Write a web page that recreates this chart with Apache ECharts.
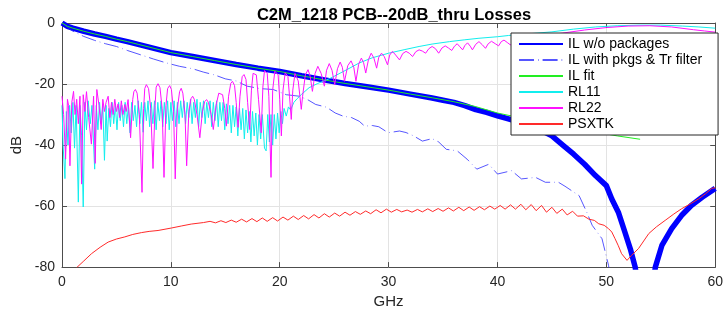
<!DOCTYPE html>
<html>
<head>
<meta charset="utf-8">
<script src="https://cdn.jsdelivr.net/npm/echarts@6/dist/echarts.min.js"></script>
<style>html,body{margin:0;padding:0;background:#fff}#chart{width:726px;height:314px}</style>
</head>
<body>
<div id="chart"></div>
<script>
// series names, in the legend order
var seriesNames = ['IL w/o packages', 'IL with pkgs & Tr filter', 'IL fit', 'RL11', 'RL22', 'PSXTK'];

// [GHz, dB]
var ilNoPkg = [[0,0],[0.5,-1.1],[1,-1.7],[2,-2.7],[3,-3.6],[4,-4.4],[5,-5.3],[6,-6.1],[7,-7.0],[8,-7.9],[9,-8.8],[10,-9.7],
  [12,-11.0],[14,-12.3],[16,-13.6],[18,-14.8],[20,-15.9],[22,-17.3],[24,-18.6],[26,-19.8],[28,-20.9],[30,-22.0],
  [32,-23.3],[34,-24.6],[35,-25.3],[36,-26.0],[37,-27.1],[38,-28.4],[39,-29.3],[40,-30.4],[41,-31.4],[42,-32.5],[43,-33.8],
  [44,-35.2],[45,-37.0],[46,-40.0],[47,-43.0],[48,-46.3],[49,-50.0],[50,-53.3],[50.5,-57.7],[51.1,-62.0],[51.7,-68.5],
  [52.2,-74.0],[52.65,-80],[53.2,-95],[54.0,-95],[54.5,-80],[55.1,-72.9],[56,-67.4],[56.9,-63.1],[57.8,-59.8],[58.8,-57.1],[60,-54.2]];

var ilPkg = [[0,0],[0.9,-2.5],[2,-4.4],[3,-5.7],[4,-6.8],[5,-7.7],[6,-9.0],[7.2,-10.4],[8.4,-11.8],[9.6,-13.1],[10.8,-14.2],
  [12,-15.0],[13,-16.1],[14,-17.0],[15,-18.3],[16,-19.0],[17,-20.7],[18.2,-21.5],[19.4,-21.8],[20.6,-23.5],[21.8,-24.0],
  [22.6,-25.2],[23.3,-26.7],[24.3,-27.6],[25.1,-29.5],[25.8,-30.5],[26.6,-31.0],[27.3,-32.2],[27.8,-33.8],[28.5,-33.6],
  [29.1,-34.0],[29.8,-35.6],[30.1,-35.9],[31.0,-35.4],[31.6,-35.9],[32.3,-37.0],[33.1,-38.7],[34.0,-37.9],[34.6,-39.0],
  [35.3,-41.4],[36.3,-41.9],[37.2,-44.6],[38.1,-47.9],[39.2,-46.3],[40.0,-49.5],[41.3,-48.4],[42.2,-51.1],[43.5,-50.6],
  [44.4,-52.2],[45.6,-52.2],[46.2,-53.5],[47.5,-56.6],[48.2,-62.0],[48.7,-66.3],[49.6,-70.7],[50.2,-79.4],[50.4,-84]];

var ilFit = [[0,0],[0.5,-1.1],[1,-1.7],[2,-2.7],[3,-3.6],[4,-4.4],[5,-5.3],[6,-6.1],[7,-7.0],[8,-7.9],[9,-8.8],[10,-9.7],
  [12,-11.0],[14,-12.3],[16,-13.6],[18,-14.8],[20,-15.9],[22,-17.3],[24,-18.6],[26,-19.8],[28,-20.9],[30,-22.0],
  [32,-23.3],[34,-24.5],[36,-25.8],[38,-27.4],[40,-29.5],[42,-31.0],[45,-33.3],[48,-35.1],[51,-37.0],[53.1,-38.1]];

var rl11 = [[0,-27],[0.1,-40],[0.27,-51],[0.4,-29],[0.55,-40],[0.7,-27],[0.85,-36],[1.0,-26],[1.15,-41],[1.3,-27],[1.5,-58.7],
  [1.65,-27],[1.8,-37],[1.95,-60.3],[2.1,-26],[2.25,-35],[2.4,-25.5],[2.6,-33],[2.75,-27],[3.0,-47.9],[3.15,-27],[3.3,-35],
  [3.45,-26],[3.6,-33],[3.75,-27],[3.9,-45],[4.05,-27],[4.15,-38.7],[4.3,-28],[4.45,-34],[4.6,-26],[4.75,-33],[4.9,-27],
  [5.05,-35],[5.2,-26],[5.35,-32],[5.5,-27],[5.65,-34],[5.8,-26],[5.95,-33],[6.1,-27],[6.25,-36],[6.4,-26],[6.55,-32],
  [6.7,-27],[6.85,-34],[7.0,-25.5],[7.15,-33],[7.3,-26],[7.45,-35.8],[7.6,-26],[7.75,-32],[7.9,-25.5],[8.05,-34],[8.2,-26],
  [8.35,-33],[8.5,-25.5],[8.65,-35],[8.8,-26],[8.95,-32],[9.1,-25.5],[9.25,-34],[9.4,-26],[9.55,-33],[9.7,-25.5],[9.85,-35],
  [10.0,-26],[10.15,-32],[10.3,-25.5],[10.45,-34],[10.6,-26],[10.75,-33],[10.9,-25.5],[11.05,-31],[11.2,-25.5],[11.35,-33],
  [11.5,-26],[11.65,-31],[11.8,-25],[11.95,-33],[12.1,-26],[12.25,-31],[12.4,-25],[12.55,-34],[12.7,-26],[12.85,-31],
  [13.0,-25.5],[13.15,-33],[13.3,-26],[13.45,-31],[13.6,-25.5],[13.75,-34],[13.9,-26],[14.05,-32],[14.2,-25.5],[14.35,-34],
  [14.5,-26],[14.65,-32],[14.8,-26],[14.95,-35],[15.1,-26.5],[15.25,-33],[15.4,-27],[15.55,-36],[15.7,-27],[15.85,-34],
  [16.0,-27.5],[16.15,-37],[16.3,-28],[16.45,-35],[16.6,-28],[16.75,-38],[16.9,-28.5],[17.05,-36],[17.2,-29],[17.35,-39],
  [17.5,-29],[17.65,-37],[17.8,-29.5],[17.95,-40],[18.1,-30],[18.25,-38],[18.4,-30],[18.6,-41],[18.75,-41.9],[18.9,-30],
  [19.05,-39],[19.2,-30],[19.35,-40],[19.5,-30],[19.65,-38],[19.8,-29.5],[19.95,-36],[20.1,-29],[20.25,-33],[20.4,-28],
  [20.6,-30.5],[20.8,-27.5],[21.0,-28.5],[21.3,-26],[21.6,-24.8],[22.0,-23.4],[22.7,-21.2],[23.5,-19.8],[24.6,-18.2],
  [26,-15.6],[27.3,-13.1],[28.5,-11.4],[30,-9.9],[31.5,-8.7],[32.8,-7.7],[34,-6.9],[35.6,-6.1],[37,-5.5],[38.3,-5.0],
  [40,-4.5],[41,-4.1],[43,-3.5],[45,-2.9],[47,-2.0],[49,-1.3],[51,-0.9],[53,-0.7],[55,-0.7],[57,-1.0],[58.5,-1.3],[60,-1.7]];

var rl22 = [[0,-24],[0.15,-30],[0.33,-44.6],[0.5,-25],[0.6,-27],[0.73,-46.8],[0.9,-26],[1.06,-22.4],[1.2,-30],[1.35,-25],
  [1.5,-33],[1.65,-24],[1.8,-52.8],[1.95,-23.5],[2.1,-29],[2.25,-22.5],[2.45,-31],[2.7,-39.7],[2.9,-24],[3.05,-46],
  [3.2,-21.8],[3.4,-27],[3.6,-34.9],[3.75,-25],[3.9,-29],[4.05,-26],[4.24,-24],[4.4,-31],[4.55,-26],[4.7,-30],[4.85,-25],
  [5.0,-29],[5.15,-26.5],[5.3,-31],[5.45,-25.5],[5.6,-30],[5.77,-26.7],[5.9,-29],[6.07,-25.1],[6.3,-37.6],[6.5,-25],
  [6.6,-22.5],[6.74,-21.8],[6.9,-23],[7.1,-30],[7.35,-55.5],[7.5,-28],[7.6,-21.5],[7.75,-20.2],[7.95,-21.5],[8.15,-28],
  [8.36,-47.7],[8.55,-27],[8.65,-21],[8.82,-19.9],[9.0,-21.2],[9.2,-28],[9.37,-50.6],[9.55,-27],[9.7,-21.5],[9.89,-20.5],
  [10.05,-21.8],[10.25,-29],[10.4,-51.1],[10.6,-28],[10.8,-22.5],[10.95,-21.4],[11.1,-23],[11.3,-30],[11.45,-46.8],
  [11.65,-29],[11.85,-24.8],[12.0,-24],[12.15,-25],[12.4,-30],[12.66,-37.6],[12.9,-29],[13.1,-25.8],[13.28,-25.1],
  [13.45,-26],[13.7,-30],[13.9,-34.9],[14.15,-27],[14.4,-23],[14.56,-22.4],[14.75,-23.5],[14.95,-28],[15.1,-33.8],
  [15.3,-24],[15.5,-19.8],[15.66,-19.1],[15.85,-20.5],[16.0,-26],[16.17,-34.2],[16.35,-24],[16.55,-17.6],[16.72,-16.9],
  [16.9,-18.5],[17.05,-26],[17.24,-34.9],[17.4,-22],[17.55,-16.5],[17.7,-15.9],[17.85,-17],[18.05,-25],[18.3,-36],
  [18.45,-21],[18.6,-15.6],[18.7,-15.1],[18.85,-16.5],[19.0,-24],[19.2,-50.6],[19.35,-22],[19.55,-15.8],[19.7,-15.3],
  [19.85,-17],[20.0,-25],[20.15,-37],[20.3,-22],[20.5,-16.3],[20.6,-15.9],[20.75,-17.5],[20.9,-24],[21.06,-31.6],
  [21.2,-22],[21.4,-16.5],[21.5,-16.2],[21.7,-19],[21.98,-28.3],[22.1,-24],[22.35,-17],[22.6,-15.3],[22.8,-17.5],
  [23.0,-22.4],[23.25,-16.5],[23.5,-14.2],[23.8,-16.5],[24.1,-20.7],[24.3,-15.5],[24.55,-13.3],[24.8,-15.5],[25.05,-20.2],
  [25.3,-15],[25.55,-12.8],[25.75,-14.5],[25.95,-19.1],[26.25,-14],[26.55,-12.4],[26.8,-14.5],[27.0,-19.1],[27.25,-13.5],
  [27.5,-11.5],[27.7,-13],[27.9,-16.4],[28.15,-12],[28.4,-9.9],[28.65,-11.5],[28.9,-14.8],[29.1,-11.2],[29.35,-9.9],
  [29.6,-11],[29.9,-13.7],[30.1,-10.5],[30.35,-9.3],[30.65,-10.5],[31.0,-12.1],[31.3,-10],[31.6,-9.3],[31.9,-9.9],
  [32.2,-11],[32.5,-9.4],[32.8,-8.8],[33.1,-9.2],[33.4,-9.9],[33.7,-8.4],[34.0,-7.7],[34.3,-8.4],[34.6,-9.9],[34.9,-8.2],
  [35.2,-7.5],[35.5,-8.2],[35.8,-9.0],[36.05,-7.6],[36.3,-6.8],[36.55,-7.8],[36.8,-8.8],[37.0,-7.4],[37.25,-6.5],
  [37.5,-7.6],[37.7,-8.8],[38.0,-7.0],[38.3,-6.1],[38.6,-7.1],[38.9,-8.3],[39.15,-6.8],[39.45,-6.0],[39.8,-6.8],
  [40.1,-7.5],[40.35,-6.1],[40.6,-5.6],[40.9,-6.4],[41.2,-7.2],[41.5,-5.6],[42,-5.5],[44,-4.2],[46,-3.3],[48,-2.3],
  [50,-1.5],[52,-1.0],[54,-0.9],[56,-1.3],[58,-2.2],[59,-2.6],[60,-3.0]];

var psxtk = [[1.34,-80.2],[2,-78],[2.71,-75.6],[3.5,-73.5],[4.24,-71.8],[5,-70.8],[5.77,-70.1],[6.5,-69.3],[7.29,-68.7],
  [8,-68.3],[8.82,-68.0],[10.04,-67.2],[11,-66.5],[11.87,-65.9],[13.0,-65.4],[13.6,-65.0],[14.1,-65.5],[14.6,-64.8],
  [15.05,-65.4],[15.55,-64.6],[16.0,-65.3],[16.5,-64.3],[16.95,-65.2],[17.45,-64.1],[17.9,-65.1],[18.4,-63.9],[18.85,-65.0],
  [19.35,-63.8],[19.8,-64.9],[20.3,-63.6],[20.75,-64.6],[21.25,-63.3],[21.7,-64.4],[22.2,-63.1],[22.65,-64.2],[23.15,-62.8],
  [23.6,-63.9],[24.1,-62.5],[24.55,-63.6],[25.05,-62.3],[25.5,-63.3],[26.0,-62.0],[26.45,-63.0],[26.95,-61.8],[27.4,-62.7],
  [27.9,-61.6],[28.35,-62.5],[28.85,-61.2],[29.3,-62.2],[29.8,-61.0],[30.25,-62.0],[30.75,-61.1],[31.2,-61.9],[31.7,-61.3],
  [32.15,-62.0],[32.65,-61.1],[33.1,-61.9],[33.6,-60.9],[34.05,-61.8],[34.55,-60.8],[35.0,-61.7],[35.5,-60.6],[35.95,-61.6],
  [36.45,-60.4],[36.9,-61.5],[37.4,-60.3],[37.85,-61.4],[38.35,-60.2],[38.8,-61.2],[39.3,-60.0],[39.75,-61.0],[40.25,-59.8],
  [40.7,-61.0],[41.2,-59.6],[41.65,-61.0],[42.15,-59.4],[42.6,-61.2],[43.1,-59.5],[43.55,-61.5],[44.05,-59.8],[44.5,-62.0],
  [45.0,-60.4],[45.45,-62.4],[45.95,-61.0],[46.4,-62.9],[46.9,-61.7],[47.35,-63.3],[47.9,-63.2],[48.4,-64.3],[48.9,-64.7],
  [49.3,-65.8],[49.8,-66.3],[50.2,-67.4],[50.5,-68.5],[50.8,-70.7],[51.1,-73],[51.4,-75.6],[51.9,-77.8],[52.3,-76.2],
  [52.96,-73.9],[53.9,-69],[54.6,-66.8],[55.4,-64.7],[56.2,-62.6],[56.9,-60.9],[57.7,-59.3],[58.45,-57.7],[59.1,-56],
  [59.67,-54.2],[60,-54.0]];

var font = '"Liberation Sans", Arial, Helvetica, sans-serif';

function mkLine(name, data, color, width, dash) {
  return {
    name: name, type: 'line', data: data, symbol: 'none', showSymbol: false,
    xAxisIndex: 0, yAxisIndex: 0,
    lineStyle: { color: color, width: width, type: dash || 'solid' },
    itemStyle: { color: color },
    emphasis: { disabled: true }
  };
}

var axisCommon = {
  axisLine: { show: true, onZero: false, lineStyle: { color: '#4d4d4d', width: 1 } },
  axisTick: { show: true, inside: true, length: 5, lineStyle: { color: '#4d4d4d' } }
};

var chart = echarts.init(document.getElementById('chart'));
var option = {
  animation: false,
  backgroundColor: '#fff',
  title: {
    text: 'C2M_1218 PCB--20dB_thru Losses',
    left: 389, top: 2, textAlign: 'center',
    textStyle: { fontFamily: font, fontSize: 16.5, fontWeight: 'bold', color: '#000' }
  },
  grid: { left: 62, right: 9, top: 23, bottom: 45 },
  legend: {
    orient: 'vertical', left: 511, top: 33,
    padding: [3, 16, 3, 7],
    itemWidth: 44, itemHeight: 10, itemGap: 0,
    itemStyle: { opacity: 0, borderWidth: 0 },
    backgroundColor: '#fff', borderColor: '#262626', borderWidth: 1,
    textStyle: { fontFamily: font, fontSize: 14, color: '#000', lineHeight: 16 },
    data: seriesNames
  },
  xAxis: [
    Object.assign({
      type: 'value', min: 0, max: 60, interval: 10, position: 'bottom',
      name: 'GHz', nameLocation: 'middle', nameGap: 22,
      nameTextStyle: { fontFamily: font, fontSize: 15, color: '#262626' },
      axisLabel: { fontFamily: font, fontSize: 14, color: '#262626', margin: 8 },
      splitLine: { show: true, lineStyle: { color: '#e3e3e3', width: 1 } }
    }, axisCommon),
    Object.assign({
      type: 'value', min: 0, max: 60, interval: 10, position: 'top',
      axisLabel: { show: false }, splitLine: { show: false }
    }, axisCommon)
  ],
  yAxis: [
    Object.assign({
      type: 'value', min: -80, max: 0, interval: 20, position: 'left',
      name: 'dB', nameLocation: 'middle', nameGap: 35,
      nameTextStyle: { fontFamily: font, fontSize: 15, color: '#262626' },
      axisLabel: { fontFamily: font, fontSize: 14, color: '#262626', margin: 7 },
      splitLine: { show: true, lineStyle: { color: '#e3e3e3', width: 1 } }
    }, axisCommon),
    Object.assign({
      type: 'value', min: -80, max: 0, interval: 20, position: 'right',
      axisLabel: { show: false }, splitLine: { show: false }
    }, axisCommon)
  ],
  series: [
    mkLine(seriesNames[0], ilNoPkg, '#0000ff', 5.5),
    mkLine(seriesNames[1], ilPkg, 'rgba(30,30,255,0.75)', 1, [15, 4, 0.6, 4]),
    mkLine(seriesNames[2], ilFit, '#22ee22', 1),
    mkLine(seriesNames[3], rl11, '#11eeee', 1),
    mkLine(seriesNames[4], rl22, '#ff11ff', 1),
    mkLine(seriesNames[5], psxtk, '#ff2a2a', 1)
  ]
};
chart.setOption(option);
</script>
</body>
</html>
